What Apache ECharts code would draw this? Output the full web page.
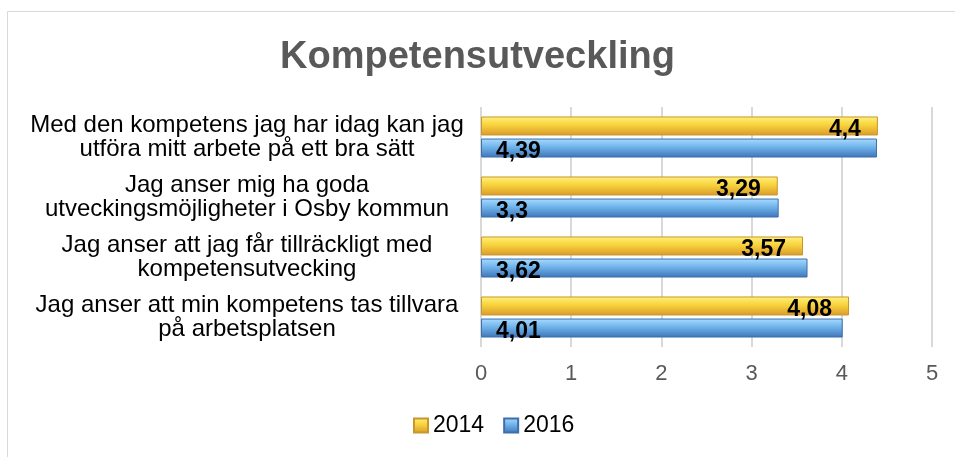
<!DOCTYPE html>
<html>
<head>
<meta charset="utf-8">
<script src="https://cdn.jsdelivr.net/npm/echarts@6/dist/echarts.min.js"></script>
<style>
  html, body { margin: 0; padding: 0; background: #fff; }
  #view { width: 955px; height: 457px; }
</style>
</head>
<body>
<div id="view"></div>
<script>
var categories = [
    'Med den kompetens jag har idag kan jag\nutföra mitt arbete på ett bra sätt',
    'Jag anser mig ha goda\nutveckingsmöjligheter i Osby kommun',
    'Jag anser att jag får tillräckligt med\nkompetensutvecking',
    'Jag anser att min kompetens tas tillvara\npå arbetsplatsen'
];
var values2014 = [4.4, 3.29, 3.57, 4.08];
var values2016 = [4.39, 3.3, 3.62, 4.01];
var xTicks = [0, 1, 2, 3, 4, 5];

var myChart = echarts.init(document.getElementById('view'));

function grad(top, mid, bottom) {
    return new echarts.graphic.LinearGradient(0, 0, 0, 1, [
        {offset: 0, color: top},
        {offset: 0.45, color: mid},
        {offset: 1, color: bottom}
    ]);
}

var yellow = grad('#fff27a', '#f8d23c', '#d99a2b');
var blue = grad('#a9dcff', '#6fb3ea', '#3f74b8');
var font = 'Liberation Sans, Arial, sans-serif';

function fmt(p) {
    return String(p.value).replace('.', ',');
}

var option = {
    animation: false,
    title: {
        text: 'Kompetensutveckling',
        left: 'center',
        top: 39,
        padding: 0,
        textStyle: {
            fontFamily: font,
            fontSize: 38,
            fontWeight: 'bold',
            color: '#595959'
        }
    },
    graphic: [{
        type: 'rect',
        shape: {x: 7.5, y: 11.5, width: 960, height: 460},
        style: {fill: 'none', stroke: '#d9d9d9', lineWidth: 1},
        silent: true
    }],
    legend: {
        top: 414,
        left: 413,
        padding: 0,
        icon: 'rect',
        itemWidth: 14,
        itemHeight: 14,
        itemGap: 19,
        textStyle: {
            fontFamily: font,
            fontSize: 23,
            color: '#000',
            padding: [0, 0, 0, 0]
        },
        data: ['2014', '2016']
    },
    grid: {
        left: 481,
        right: 23,
        top: 107,
        bottom: 110
    },
    xAxis: {
        type: 'value',
        min: 0,
        max: 5,
        interval: 1,
        axisLine: {show: false},
        axisTick: {show: false},
        splitLine: {lineStyle: {color: '#d9d9d9', width: 2}},
        axisLabel: {
            margin: 16,
            fontFamily: font,
            fontSize: 22,
            color: '#595959',
            formatter: function (v) { return xTicks.indexOf(v) >= 0 ? String(v) : ''; }
        }
    },
    yAxis: {
        type: 'category',
        inverse: true,
        data: categories,
        axisLine: {show: false},
        axisTick: {show: false},
        axisLabel: {
            align: 'center',
            margin: 234,
            fontFamily: font,
            fontSize: 24,
            lineHeight: 24,
            padding: [5, 0, 0, 0],
            color: '#000'
        }
    },
    series: [{
        name: '2014',
        type: 'bar',
        data: values2014,
        barWidth: 19,
        barGap: '16%',
        itemStyle: {color: yellow, borderColor: '#c8962e', borderWidth: 1},
        label: {
            show: true,
            position: 'insideRight',
            offset: [0, 4],
            distance: 17,
            formatter: fmt,
            fontFamily: font,
            fontSize: 23,
            fontWeight: 'bold',
            color: '#000'
        }
    }, {
        name: '2016',
        type: 'bar',
        data: values2016,
        barWidth: 19,
        itemStyle: {color: blue, borderColor: '#3d6fae', borderWidth: 1},
        label: {
            show: true,
            position: 'insideLeft',
            distance: 15,
            offset: [0, 4],
            formatter: fmt,
            fontFamily: font,
            fontSize: 23,
            fontWeight: 'bold',
            color: '#000'
        }
    }]
};

myChart.setOption(option);
</script>
</body>
</html>
